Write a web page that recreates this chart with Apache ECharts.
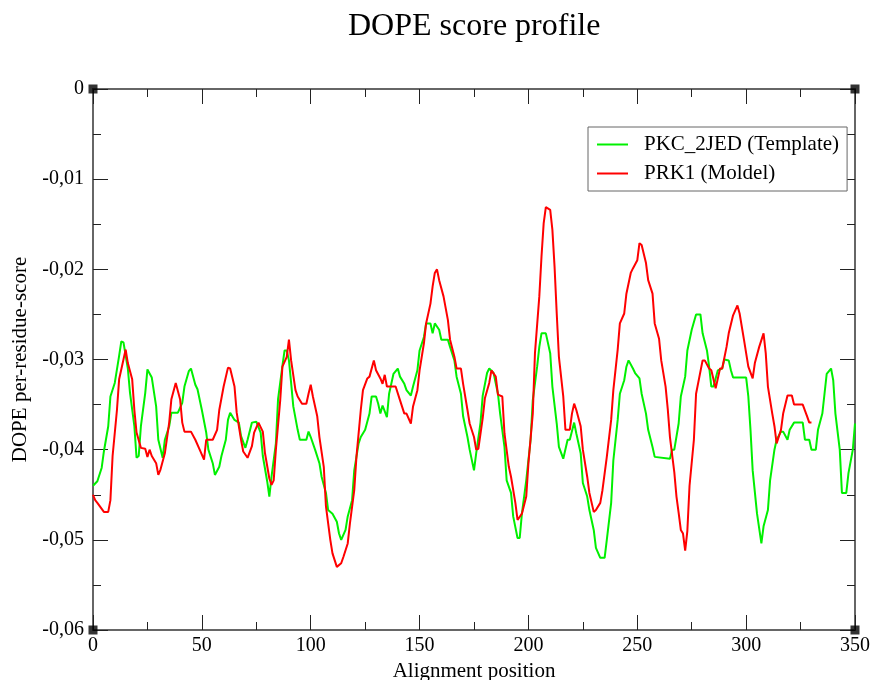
<!DOCTYPE html>
<html>
<head>
<meta charset="utf-8">
<script src="https://cdn.jsdelivr.net/npm/echarts@6/dist/echarts.min.js"></script>
<style>
  html, body { margin: 0; padding: 0; background: #fff; }
  #chart { width: 875px; height: 680px; }
</style>
</head>
<body>
<div id="chart"></div>
<script>
// Template (PKC_2JED) per-residue DOPE profile: alignment position / score
const templateX = [0,2,4,5,7,8,10,12,13,14,16,17,19,20,21,22,24,25,27,29,30,32,33,35,36,39,41,42,44,45,47,48,50,52,53,55,56,58,59,61,62,63,65,67,68,70,71,73,75,77,78,80,81,82,84,85,87,88,89,90,91,92,94,95,98,99,100,102,104,105,107,108,110,112,113,114,116,117,119,120,122,123,125,127,128,130,131,132,133,135,136,138,140,141,143,144,146,147,149,150,152,153,155,156,157,159,160,163,164,166,167,169,170,172,173,175,176,178,179,181,182,184,186,187,189,190,192,193,195,196,197,199,201,202,204,205,206,208,210,211,213,214,216,218,219,221,222,224,225,227,228,230,231,233,235,236,238,239,241,242,244,245,246,248,249,251,252,254,255,257,258,265,266,267,269,270,272,273,275,277,279,280,282,283,284,285,287,289,290,292,293,294,300,301,302,303,305,307,308,310,311,313,314,316,317,319,320,322,326,327,329,330,332,333,335,336,337,339,340,341,343,344,346,347,349,350];
const templateY = [-0.0440,-0.0435,-0.0420,-0.0402,-0.0374,-0.0341,-0.0326,-0.0296,-0.0280,-0.0281,-0.0310,-0.0337,-0.0374,-0.0409,-0.0407,-0.0374,-0.0337,-0.0311,-0.0320,-0.0352,-0.0389,-0.0409,-0.0389,-0.0374,-0.0359,-0.0359,-0.0348,-0.0330,-0.0313,-0.0310,-0.0328,-0.0333,-0.0356,-0.0381,-0.0400,-0.0415,-0.0428,-0.0419,-0.0407,-0.0389,-0.0367,-0.0359,-0.0367,-0.0370,-0.0385,-0.0398,-0.0389,-0.0370,-0.0369,-0.0381,-0.0407,-0.0435,-0.0452,-0.0430,-0.0393,-0.0344,-0.0307,-0.0290,-0.0290,-0.0301,-0.0326,-0.0352,-0.0378,-0.0389,-0.0389,-0.0380,-0.0386,-0.0400,-0.0415,-0.0430,-0.0448,-0.0467,-0.0471,-0.0480,-0.0493,-0.0500,-0.0489,-0.0474,-0.0456,-0.0423,-0.0393,-0.0386,-0.0378,-0.0360,-0.0341,-0.0341,-0.0349,-0.0360,-0.0351,-0.0364,-0.0338,-0.0316,-0.0310,-0.0319,-0.0327,-0.0334,-0.0340,-0.0330,-0.0312,-0.0290,-0.0275,-0.0260,-0.0260,-0.0271,-0.0260,-0.0267,-0.0278,-0.0278,-0.0286,-0.0301,-0.0319,-0.0338,-0.0363,-0.0386,-0.0400,-0.0423,-0.0404,-0.0370,-0.0340,-0.0315,-0.0310,-0.0315,-0.0338,-0.0360,-0.0397,-0.0434,-0.0448,-0.0474,-0.0498,-0.0498,-0.0471,-0.0434,-0.0389,-0.0345,-0.0308,-0.0286,-0.0271,-0.0271,-0.0293,-0.0330,-0.0371,-0.0397,-0.0410,-0.0389,-0.0389,-0.0370,-0.0382,-0.0404,-0.0437,-0.0452,-0.0467,-0.0489,-0.0509,-0.0520,-0.0520,-0.0500,-0.0459,-0.0412,-0.0367,-0.0338,-0.0323,-0.0308,-0.0301,-0.0310,-0.0315,-0.0321,-0.0338,-0.0360,-0.0378,-0.0397,-0.0408,-0.0410,-0.0400,-0.0400,-0.0371,-0.0341,-0.0319,-0.0290,-0.0267,-0.0250,-0.0250,-0.0271,-0.0290,-0.0308,-0.0330,-0.0330,-0.0312,-0.0310,-0.0300,-0.0301,-0.0312,-0.0320,-0.0320,-0.0341,-0.0378,-0.0423,-0.0471,-0.0504,-0.0485,-0.0467,-0.0434,-0.0400,-0.0389,-0.0380,-0.0380,-0.0389,-0.0378,-0.0370,-0.0370,-0.0389,-0.0389,-0.0400,-0.0400,-0.0378,-0.0360,-0.0338,-0.0316,-0.0310,-0.0323,-0.0360,-0.0400,-0.0448,-0.0448,-0.0426,-0.0400,-0.0371];

// Model (PRK1) per-residue DOPE profile
const modelX = [0,1,2,5,7,8,9,11,12,14,15,16,18,19,20,22,24,25,26,27,29,30,31,33,35,36,38,40,41,42,45,47,49,51,52,55,57,58,60,62,63,65,66,68,69,71,73,74,76,78,79,81,82,83,84,86,87,89,90,91,93,94,96,98,99,100,101,103,104,106,107,109,110,112,114,115,117,118,120,121,123,124,126,127,129,130,132,133,134,135,139,141,143,144,146,147,149,150,152,153,155,156,157,158,159,161,163,164,166,167,169,170,172,173,175,176,177,179,180,182,183,185,186,188,189,191,192,194,195,197,199,200,202,203,205,206,207,208,210,211,212,213,214,216,217,219,220,221,222,224,225,227,228,230,231,233,234,236,238,239,241,242,244,245,247,248,250,251,252,254,255,257,258,260,261,263,264,265,267,268,269,270,271,272,273,274,276,277,280,281,283,284,286,288,289,291,292,294,296,297,299,301,303,304,306,308,309,310,312,313,314,316,317,319,321,322,326,328,329,330];
const modelY = [-0.0450,-0.0456,-0.0459,-0.0469,-0.0469,-0.0456,-0.0407,-0.0356,-0.0322,-0.0300,-0.0289,-0.0304,-0.0322,-0.0356,-0.0381,-0.0398,-0.0399,-0.0408,-0.0400,-0.0407,-0.0415,-0.0428,-0.0422,-0.0404,-0.0370,-0.0344,-0.0326,-0.0344,-0.0370,-0.0380,-0.0380,-0.0389,-0.0400,-0.0411,-0.0389,-0.0389,-0.0378,-0.0356,-0.0330,-0.0309,-0.0310,-0.0330,-0.0359,-0.0389,-0.0402,-0.0409,-0.0396,-0.0381,-0.0370,-0.0380,-0.0404,-0.0432,-0.0439,-0.0434,-0.0400,-0.0345,-0.0308,-0.0297,-0.0278,-0.0301,-0.0334,-0.0341,-0.0349,-0.0349,-0.0338,-0.0328,-0.0341,-0.0363,-0.0386,-0.0419,-0.0463,-0.0500,-0.0515,-0.0530,-0.0526,-0.0519,-0.0504,-0.0482,-0.0445,-0.0408,-0.0356,-0.0334,-0.0321,-0.0319,-0.0301,-0.0312,-0.0321,-0.0327,-0.0317,-0.0330,-0.0330,-0.0345,-0.0360,-0.0360,-0.0371,-0.0352,-0.0334,-0.0312,-0.0282,-0.0260,-0.0238,-0.0219,-0.0204,-0.0200,-0.0212,-0.0230,-0.0256,-0.0278,-0.0297,-0.0310,-0.0310,-0.0327,-0.0356,-0.0371,-0.0386,-0.0400,-0.0399,-0.0365,-0.0343,-0.0326,-0.0312,-0.0319,-0.0339,-0.0341,-0.0382,-0.0419,-0.0430,-0.0459,-0.0478,-0.0471,-0.0452,-0.0415,-0.0360,-0.0293,-0.0230,-0.0186,-0.0149,-0.0131,-0.0134,-0.0156,-0.0197,-0.0249,-0.0297,-0.0341,-0.0378,-0.0378,-0.0360,-0.0349,-0.0356,-0.0374,-0.0400,-0.0430,-0.0448,-0.0469,-0.0467,-0.0459,-0.0445,-0.0408,-0.0367,-0.0334,-0.0289,-0.0260,-0.0249,-0.0227,-0.0204,-0.0199,-0.0190,-0.0171,-0.0173,-0.0193,-0.0212,-0.0227,-0.0260,-0.0277,-0.0301,-0.0330,-0.0355,-0.0386,-0.0425,-0.0452,-0.0470,-0.0489,-0.0493,-0.0512,-0.0490,-0.0440,-0.0389,-0.0338,-0.0301,-0.0301,-0.0310,-0.0312,-0.0332,-0.0310,-0.0310,-0.0286,-0.0271,-0.0251,-0.0240,-0.0249,-0.0278,-0.0308,-0.0321,-0.0304,-0.0286,-0.0271,-0.0293,-0.0330,-0.0360,-0.0374,-0.0393,-0.0378,-0.0360,-0.0340,-0.0340,-0.0350,-0.0350,-0.0363,-0.0370,-0.0370];

const seriesNames = ['PKC_2JED (Template)', 'PRK1 (Moldel)'];
const xRange = [0, 350];
const yRange = [-0.06, 0];

const pairs = (xs, ys) => xs.map((x, i) => [x, ys[i]]);
const corners = [[xRange[0], yRange[1]], [xRange[1], yRange[1]], [xRange[0], yRange[0]], [xRange[1], yRange[0]]];

const serif = '"Liberation Serif", "DejaVu Serif", serif';
const frame = '#666';
const tickColor = '#222';

function frameAxis(extra) {
  return Object.assign({
    type: 'value',
    axisLine: { show: true, onZero: false, lineStyle: { color: frame, width: 2 } },
    axisTick: { show: true, inside: true, length: 15, lineStyle: { color: tickColor, width: 1 } },
    minorTick: { show: true, splitNumber: 2, length: 8, lineStyle: { color: tickColor, width: 1 } },
    splitLine: { show: false },
    minorSplitLine: { show: false }
  }, extra);
}

const xCommon = { min: xRange[0], max: xRange[1], interval: 50 };
const yCommon = { min: yRange[0], max: yRange[1], interval: 0.01 };

const chart = echarts.init(document.getElementById('chart'), null, { renderer: 'canvas' });
chart.setOption({
  backgroundColor: '#fff',
  animation: false,
  title: {
    text: 'DOPE score profile',
    left: 343,
    top: 6,
    textStyle: { fontFamily: serif, fontSize: 32, fontWeight: 'normal', color: '#000' }
  },
  legend: {
    data: seriesNames,
    orient: 'vertical',
    left: 588,
    top: 127,
    padding: [7, 8, 7, 9],
    icon: 'rect',
    itemWidth: 31,
    itemHeight: 2,
    itemGap: 8,
    borderColor: frame,
    borderWidth: 1,
    backgroundColor: '#fff',
    textStyle: { fontFamily: serif, fontSize: 21, color: '#000', lineHeight: 20, padding: [0, 0, 0, 11] }
  },
  grid: { left: 93, right: 20, top: 89, bottom: 50, outerBoundsMode: 'none', containLabel: false },
  xAxis: [
    frameAxis(Object.assign({
      position: 'bottom',
      name: 'Alignment position',
      nameLocation: 'middle',
      nameGap: 29,
      nameTextStyle: { fontFamily: serif, fontSize: 21, color: '#000' },
      axisLabel: { fontFamily: serif, fontSize: 20, color: '#000', margin: 6, showMinLabel: true, showMaxLabel: true }
    }, xCommon)),
    frameAxis(Object.assign({ position: 'top', axisLabel: { show: false } }, xCommon))
  ],
  yAxis: [
    frameAxis(Object.assign({
      position: 'left',
      name: 'DOPE per-residue-score',
      nameLocation: 'middle',
      nameGap: 60,
      nameTextStyle: { fontFamily: serif, fontSize: 21, color: '#000' },
      axisLabel: {
        fontFamily: serif, fontSize: 20, color: '#000', margin: 9,
        showMinLabel: true, showMaxLabel: true,
        formatter: v => (Math.abs(v) < 1e-9 ? '0' : v.toFixed(2).replace('.', ','))
      }
    }, yCommon)),
    frameAxis(Object.assign({ position: 'right', axisLabel: { show: false } }, yCommon))
  ],
  series: [
    {
      name: seriesNames[0],
      type: 'line',
      xAxisIndex: 0, yAxisIndex: 0,
      data: pairs(templateX, templateY),
      symbol: 'none',
      color: '#00f000',
      lineStyle: { color: '#00f000', width: 2 },
      z: 3
    },
    {
      name: seriesNames[1],
      type: 'line',
      xAxisIndex: 0, yAxisIndex: 0,
      data: pairs(modelX, modelY),
      symbol: 'none',
      color: '#ff0000',
      lineStyle: { color: '#ff0000', width: 2 },
      z: 4
    },
    {
      // corner markers of the plot frame
      name: 'frame',
      type: 'scatter',
      xAxisIndex: 0, yAxisIndex: 0,
      data: corners,
      symbol: 'rect',
      symbolSize: 9,
      itemStyle: { color: '#000' },
      silent: true,
      z: 10
    }
  ]
});
</script>
</body>
</html>
